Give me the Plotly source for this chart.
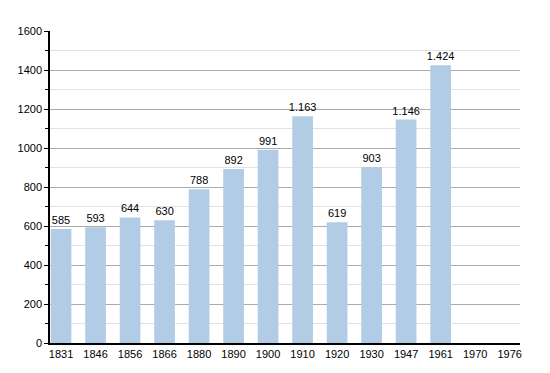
import plotly.graph_objects as go

years = ["1831", "1846", "1856", "1866", "1880", "1890", "1900", "1910", "1920", "1930", "1947", "1961", "1970", "1976"]
population = [585, 593, 644, 630, 788, 892, 991, 1163, 619, 903, 1146, 1424, None, None]
y_ticks = [0, 200, 400, 600, 800, 1000, 1200, 1400, 1600]

labels = [("" if v is None else f"{v:,}".replace(",", ".")) for v in population]

fig = go.Figure()
fig.add_trace(go.Bar(
    x=list(range(len(years))),
    y=population,
    width=0.6,
    marker=dict(color="#b2cce6", line=dict(width=0)),
    text=labels,
    textposition="outside",
    constraintext="none",
    textfont=dict(family="Liberation Sans, Arial, sans-serif", size=11, color="#000"),
    cliponaxis=False,
))

fig.update_layout(
    width=534, height=357,
    margin=dict(l=42, r=22, t=23, b=22, autoexpand=False),
    paper_bgcolor="white", plot_bgcolor="white",
    showlegend=False,
    bargap=0.4,
    font=dict(family="Liberation Sans, Arial, sans-serif", size=11, color="#000"),
)
fig.update_xaxes(
    tickmode="array",
    tickvals=list(range(len(years))),
    ticktext=years,
    range=[-0.32, 13.3],
    showline=True, linecolor="#000", linewidth=1.5,
    ticks="", showgrid=False, zeroline=False,
    tickfont=dict(size=11),
    automargin=False,
)
fig.update_yaxes(
    range=[0, 1600],
    tickmode="array",
    tickvals=y_ticks,
    showline=True, linecolor="#000", linewidth=1.5,
    ticks="outside", ticklen=4, tickcolor="#000",
    showgrid=True, gridcolor="#ababab", gridwidth=1,
    zeroline=False,
    minor=dict(dtick=100, showgrid=True, gridcolor="#e2e2e2", ticks="outside", ticklen=3, tickcolor="#000"),
    tickfont=dict(size=11),
    automargin=False,
)

fig.write_html("out.html")
